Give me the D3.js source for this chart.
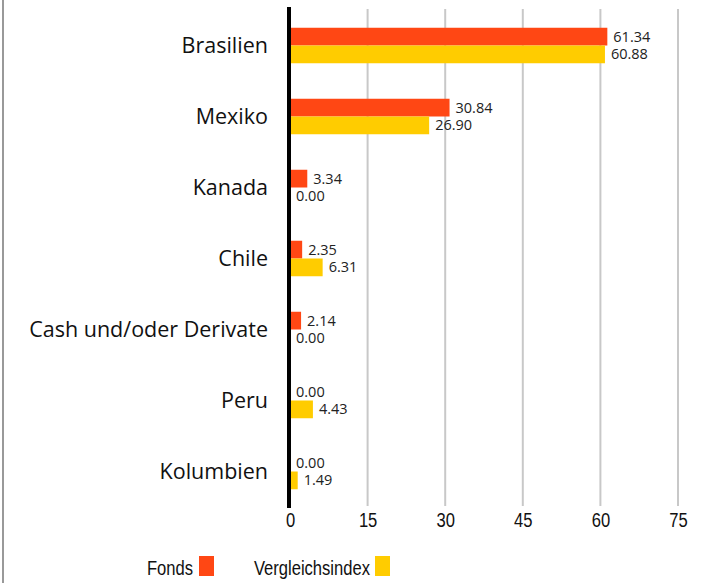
<!DOCTYPE html>
<html>
<head>
<meta charset="utf-8">
<script src="https://cdn.jsdelivr.net/npm/d3@7"></script>
<style>
  body { margin: 0; background: #fff; }
  svg { display: block; font-family: "Open Sans", sans-serif; }
  .narrow { font-family: "Liberation Sans", Arial, sans-serif; }
</style>
</head>
<body>
<svg id="chart" width="703" height="583"></svg>
<script>
const categories = ['Brasilien', 'Mexiko', 'Kanada', 'Chile', 'Cash und/oder Derivate', 'Peru', 'Kolumbien'];
const fonds = [61.34, 30.84, 3.34, 2.35, 2.14, 0.00, 0.00];
const vergleichsindex = [60.88, 26.90, 0.00, 6.31, 0.00, 4.43, 1.49];
const seriesNames = ['Fonds', 'Vergleichsindex'];
const xTicks = [0, 15, 30, 45, 60, 75];

const colors = ['#ff4714', '#ffcc00'];
const squeeze = 0.79; // condensed look for axis + legend text

const svg = d3.select('#chart');

// left border
svg.append('line')
  .attr('x1', 3).attr('x2', 3).attr('y1', 0).attr('y2', 583)
  .style('stroke', '#999').style('stroke-width', 2);

const x = d3.scaleLinear().domain([0, 75]).range([290, 678]);
const y = d3.scaleBand().domain(categories).range([10, 507]).paddingInner(0.5).paddingOuter(0.25);
const sub = d3.scaleBand().domain(seriesNames).range([0, y.bandwidth()]);

// gridlines
svg.append('g')
  .selectAll('line')
  .data(xTicks.slice(1))
  .enter().append('line')
  .attr('x1', (d) => x(d)).attr('x2', (d) => x(d))
  .attr('y1', 9).attr('y2', 506)
  .style('stroke', '#c8c8c8')
  .style('stroke-width', 2);

// tick labels
const xAxis = svg.append('g')
  .attr('transform', 'translate(0,506)')
  .call(d3.axisBottom(x).tickValues(xTicks).tickSize(0).tickPadding(6));
xAxis.select('.domain').remove();
xAxis.selectAll('text')
  .attr('class', 'narrow')
  .attr('transform', 'scale(' + squeeze + ',1)')
  .style('font-size', '21px')
  .style('fill', '#111');

// bars
const rows = categories.map((c, i) => ({ cat: c, values: [fonds[i], vergleichsindex[i]] }));
const groups = svg.append('g')
  .selectAll('g')
  .data(rows)
  .enter().append('g')
  .attr('transform', (d) => 'translate(0,' + y(d.cat) + ')');

groups.selectAll('rect')
  .data((d) => d.values.map((v, k) => ({ name: seriesNames[k], value: v, k: k })))
  .enter().append('rect')
  .attr('x', x(0))
  .attr('y', (d) => sub(d.name))
  .attr('width', (d) => x(d.value) - x(0))
  .attr('height', sub.bandwidth())
  .style('fill', (d) => colors[d.k]);

groups.selectAll('text.val')
  .data((d) => d.values.map((v, k) => ({ name: seriesNames[k], value: v })))
  .enter().append('text')
  .attr('class', 'val')
  .attr('x', (d) => x(d.value) + 6)
  .attr('y', (d) => sub(d.name) + sub.bandwidth() / 2)
  .attr('dy', '0.35em')
  .style('font-size', '14.5px')
  .style('fill', '#222')
  .text((d) => d3.format('.2f')(d.value));

// category labels
svg.append('g')
  .selectAll('text')
  .data(categories)
  .enter().append('text')
  .attr('x', 268)
  .attr('y', (d) => y(d) + y.bandwidth() / 2)
  .attr('dy', '0.35em')
  .style('text-anchor', 'end')
  .style('font-size', '21.5px')
  .style('fill', '#111')
  .text((d) => d);

// zero axis
svg.append('line')
  .attr('x1', x(0) - 1).attr('x2', x(0) - 1)
  .attr('y1', 7).attr('y2', 508)
  .style('stroke', '#000')
  .style('stroke-width', 4);

// legend
const legendItems = [
  { name: seriesNames[0], textEnd: 193, box: 199 },
  { name: seriesNames[1], textEnd: 370, box: 375 }
];
const legend = svg.append('g');
legend.selectAll('text')
  .data(legendItems)
  .enter().append('text')
  .attr('class', 'narrow')
  .attr('transform', (d) => 'translate(' + d.textEnd + ',575) scale(' + squeeze + ',1)')
  .style('text-anchor', 'end')
  .style('font-size', '21px')
  .style('fill', '#111')
  .text((d) => d.name);
legend.selectAll('rect')
  .data(legendItems)
  .enter().append('rect')
  .attr('x', (d) => d.box)
  .attr('y', 556)
  .attr('width', 15)
  .attr('height', 20)
  .style('fill', (d, i) => colors[i]);
</script>
</body>
</html>
